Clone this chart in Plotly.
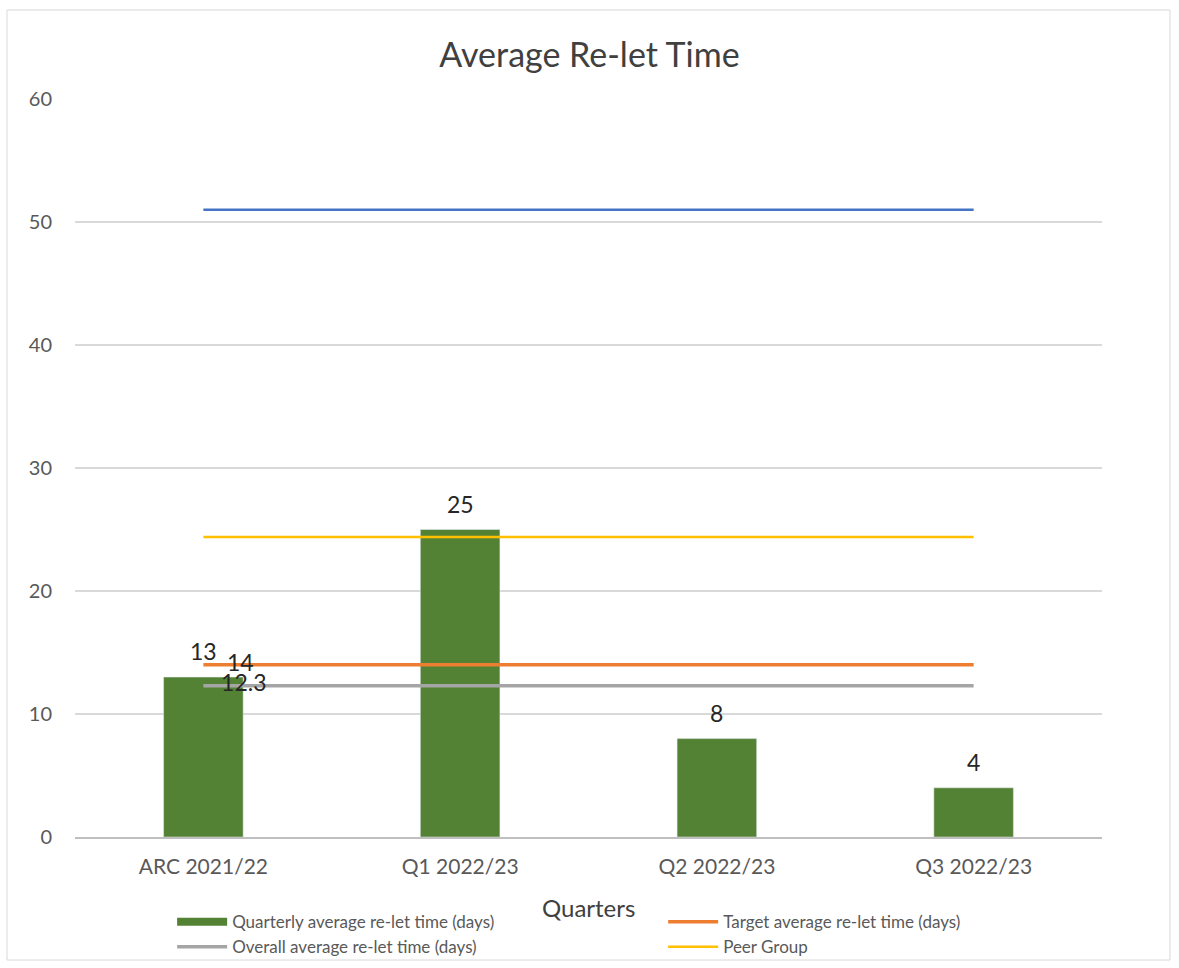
import plotly.graph_objects as go

categories = ["ARC 2021/22", "Q1 2022/23", "Q2 2022/23", "Q3 2022/23"]
quarterly = [13, 25, 8, 4]
target = [14, 14, 14, 14]
overall = [12.3, 12.3, 12.3, 12.3]
peer = [24.4, 24.4, 24.4, 24.4]
benchmark = [51, 51, 51, 51]
x_title = "Quarters"

FONT = "Lato"
GREY = "#595959"
NB = "\u00a0"
GREEN = "#548235"

fig = go.Figure()
fig.add_trace(go.Bar(
    x=categories, y=quarterly, name="Quarterly average re-let time (days)",
    marker=dict(color=GREEN), width=0.31, showlegend=False, legendgroup="q",
))
# legend swatch for the bar series (wide block like the original)
fig.add_trace(go.Scatter(
    x=[None], y=[None], mode="lines", name="Quarterly average re-let time (days)",
    line=dict(color=GREEN, width=8), legendgroup="q",
))
fig.add_trace(go.Scatter(
    x=categories, y=benchmark, mode="lines", showlegend=False,
    line=dict(color="#4472C4", width=2.5), name="",
))
fig.add_trace(go.Scatter(
    x=categories, y=target, mode="lines+text", name="Target average re-let time (days)",
    line=dict(color="#ED7D31", width=3.5),
    text=[NB * 4 + str(target[0]), "", "", ""], textposition="middle right",
    textfont=dict(family=FONT, size=23, color="#262626"),
))
fig.add_trace(go.Scatter(
    x=categories, y=overall, mode="lines+text", name="Overall average re-let time (days)",
    line=dict(color="#A5A5A5", width=3.5),
    text=[NB * 3 + str(overall[0]), "", "", ""], textposition="middle right",
    textfont=dict(family=FONT, size=23, color="#262626"),
))
fig.add_trace(go.Scatter(
    x=categories, y=peer, mode="lines", name="Peer Group",
    line=dict(color="#FFC000", width=2.5),
))

for c, v in zip(categories, quarterly):
    fig.add_annotation(x=c, y=v, text=str(v), showarrow=False, yanchor="bottom", yshift=10,
                       font=dict(family=FONT, size=23, color="#262626"))

# x-axis title
fig.add_annotation(xref="paper", yref="paper", x=0.5, y=-0.0962, text=x_title, showarrow=False,
                   xanchor="center", yanchor="middle",
                   font=dict(family=FONT, size=24, color="#404040"))

fig.update_layout(
    width=1179, height=968,
    margin=dict(l=75, r=77, t=99, b=131, autoexpand=False),
    paper_bgcolor="white", plot_bgcolor="white",
    title=dict(text="Average Re-let Time", x=0.5, xanchor="center", y=0.943, yanchor="middle",
               font=dict(family=FONT, size=34, color="#404040")),
    font=dict(family=FONT, color=GREY),
    showlegend=True,
    legend=dict(orientation="h", xref="container", yref="container", x=0.146, y=0.066,
                xanchor="left", yanchor="top", entrywidth=426, entrywidthmode="pixels",
                font=dict(family=FONT, size=17, color=GREY), traceorder="normal",
                tracegroupgap=0, itemwidth=50, bgcolor="rgba(0,0,0,0)"),
    bargap=0.69,
    shapes=[dict(type="rect", xref="paper", yref="paper", x0=-0.0662, x1=1.0662, y0=-0.1667, y1=1.1206,
                 line=dict(color="#D9D9D9", width=1), layer="below")],
)
fig.update_xaxes(
    showgrid=False, showline=True, linecolor="#BFBFBF", linewidth=1.5,
    tickfont=dict(family=FONT, size=21, color=GREY), ticklabelstandoff=10,
)
fig.update_yaxes(
    range=[0, 60], dtick=10, showgrid=True, gridcolor="#D9D9D9", gridwidth=1.5,
    zeroline=False, showline=False,
    tickfont=dict(family=FONT, size=20, color=GREY), ticklabelstandoff=22,
)

fig.write_html("out.html")
